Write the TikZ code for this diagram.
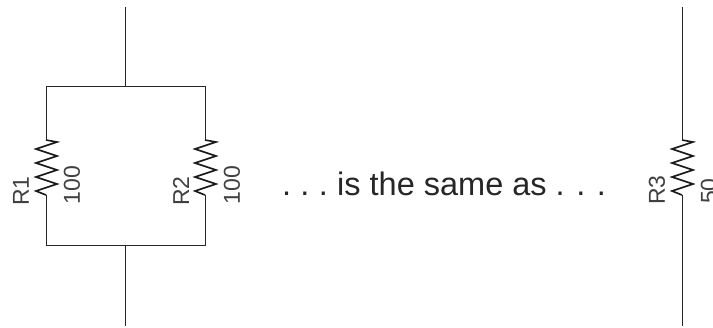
\documentclass[tikz,border=0pt]{standalone}
\usepackage{fontspec}
\setmainfont{Liberation Sans}
\tikzset{
  wire/.style={draw=black!85,line width=1pt},
  zig/.style={draw=black!90,line width=1.6pt,line join=miter},
  lab/.style={font=\fontsize{23}{24}\selectfont,text=black!75,inner sep=0pt,rotate=90},
  txt/.style={font=\fontsize{32.5}{36}\selectfont,text=black!85,inner sep=0pt}
}
\newcommand{\resz}[3]{%
  \coordinate (#3t) at (#1,#2);
  \coordinate (#3b) at (#1,#2+55);
  \draw[zig] (#3t) -- ++(11,2) -- ++(-21,7) -- ++(21,7) -- ++(-21,7) -- ++(21,7) -- ++(-21,7)-- ++(21,7)-- ++(-21,7)--(#3b);
}
\begin{document}
\begin{tikzpicture}[x=1pt,y=-1pt]
\useasboundingbox[fill=white] (0,0) rectangle (713,328);
\coordinate (top1) at (125,7);
\coordinate (j1) at (125,87);
\coordinate (tl) at (46,87);
\coordinate (tr) at (205,87);
\coordinate (bl) at (46,246);
\coordinate (br) at (205,246);
\coordinate (j2) at (125,246);
\coordinate (bot1) at (125,326);
\coordinate (top3) at (682,7);
\coordinate (bot3) at (682,326);
\resz{46}{140}{a}
\resz{205}{140}{b}
\resz{682}{140}{c}
\draw[wire] (top1) -- (j1);
\draw[wire] (at) -- (tl) -- (tr) -- (bt);
\draw[wire] (ab) -- (bl) -- (br) -- (bb);
\draw[wire] (j2) -- (bot1);
\draw[wire] (top3) -- (ct);
\draw[wire] (cb) -- (bot3);
\node[lab] (r1) at (21,191) {R1};
\node[lab] (v1) at (72,185) {100};
\node[lab] (r2) at (181,191) {R2};
\node[lab] (v2) at (232,185) {100};
\node[lab] (r3) at (657,190) {R3};
\node[lab] (v3) at (709,191) {50};
\node[txt,anchor=base] (t) at (444,196) {.\kern-2.7pt{} .\kern-2.7pt{} .\kern-2.7pt{} is the same as .\kern-0.5pt{} .\kern-0.5pt{} .};
\end{tikzpicture}
\end{document}
